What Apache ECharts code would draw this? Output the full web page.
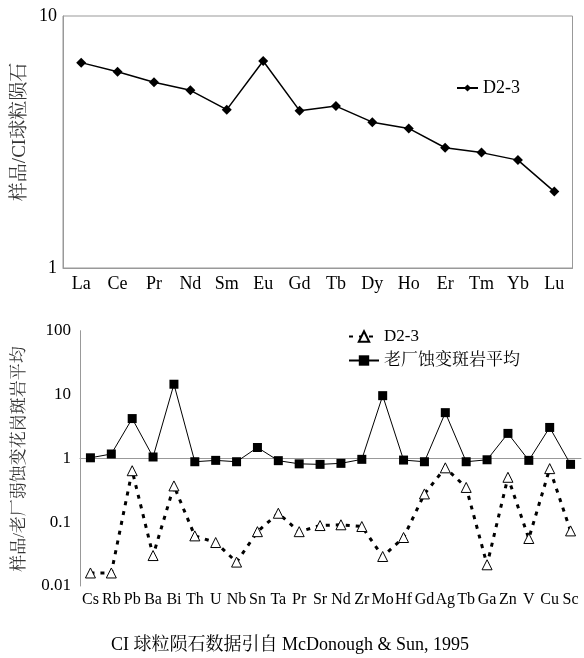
<!DOCTYPE html>
<html><head><meta charset="utf-8">
<script src="https://cdn.jsdelivr.net/npm/echarts@6/dist/echarts.min.js"></script>
<style>html,body{margin:0;padding:0;background:#fff}#c{width:584px;height:658px}</style>
</head><body><div id="c"></div>
<script>
var reeCats = ['La','Ce','Pr','Nd','Sm','Eu','Gd','Tb','Dy','Ho','Er','Tm','Yb','Lu'];
var reeD23 = [6.53,6.01,5.46,5.07,4.25,6.63,4.21,4.39,3.79,3.58,3.00,2.87,2.68,2.01];
var traceCats = ['Cs','Rb','Pb','Ba','Bi','Th','U','Nb','Sn','Ta','Pr','Sr','Nd','Zr','Mo','Hf','Gd','Ag','Tb','Ga','Zn','V','Cu','Sc'];
var traceD23 = [0.016,0.016,0.64,0.030,0.37,0.061,0.048,0.0237,0.071,0.138,0.071,0.0885,0.091,0.0855,0.029,0.0575,0.277,0.71,0.35,0.0215,0.505,0.0555,0.69,0.073];
var traceLC = [1.02,1.17,4.2,1.05,14.5,0.885,0.93,0.885,1.48,0.92,0.82,0.805,0.835,0.965,9.6,0.94,0.885,5.2,0.885,0.95,2.46,0.93,3.05,0.805];
var topTicks = [1,10];
var botTicks = [0.01,0.1,1,10,100];

var SERIF = '"Liberation Serif","Times New Roman",serif';
var CJK = '"Liberation Serif","Noto Serif CJK SC","Noto Sans CJK SC",serif';
var axisGrey = '#999';
var chart = echarts.init(document.getElementById('c'));
chart.setOption({
  animation:false,
  backgroundColor:'#fff',
  grid:[
    {left:63, top:16, width:509.5, height:252, show:true, borderColor:axisGrey, borderWidth:1, backgroundColor:'transparent'},
    {left:80, top:330.7, right:3, height:255.3}
  ],
  xAxis:[
    {gridIndex:0, type:'category', data:reeCats, boundaryGap:true,
     axisLine:{lineStyle:{color:axisGrey}}, axisTick:{inside:true, length:4, lineStyle:{color:axisGrey}},
     axisLabel:{interval:0, color:'#000', fontFamily:SERIF, fontSize:18, margin:7}},
    {gridIndex:1, type:'category', data:traceCats, boundaryGap:true, position:'bottom',
     axisLine:{show:false}, axisTick:{show:false},
     axisLabel:{interval:0, color:'#000', fontFamily:SERIF, fontSize:16, margin:6}},
    {gridIndex:1, type:'category', data:traceCats, boundaryGap:true, position:'bottom', offset:-127.7,
     axisLine:{lineStyle:{color:axisGrey}}, axisTick:{inside:true, length:4, lineStyle:{color:axisGrey}},
     axisLabel:{show:false}}
  ],
  yAxis:[
    {gridIndex:0, type:'log', logBase:10, min:topTicks[0], max:topTicks[1],
     axisLine:{show:true, lineStyle:{color:axisGrey}}, axisTick:{show:false}, splitLine:{show:false},
     axisLabel:{color:'#000', fontFamily:SERIF, fontSize:18, margin:6}},
    {gridIndex:1, type:'log', logBase:10, min:botTicks[0], max:botTicks[4],
     axisLine:{show:true, lineStyle:{color:axisGrey}}, axisTick:{inside:true, length:3, lineStyle:{color:axisGrey}}, splitLine:{show:false},
     axisLabel:{color:'#000', fontFamily:SERIF, fontSize:17, margin:9,
       formatter:function(v){ var m={0.01:'0.01',0.1:'0.1',1:'1',10:'10',100:'100'}; return m[v]!==undefined?m[v]:String(v);} }}
  ],
  legend:[
    {left:451, top:74, itemWidth:21, itemHeight:9, data:['D2-3 REE'],
     formatter:function(){return 'D2-3';},
     textStyle:{color:'#000', fontFamily:SERIF, fontSize:18}},
    {left:343, top:323, orient:'vertical', itemWidth:30, itemHeight:13, itemGap:7,
     data:['D2-3','老厂蚀变斑岩平均'],
     textStyle:{color:'#000', fontFamily:CJK, fontSize:17}}
  ],
  series:[
    {name:'D2-3 REE', type:'line', xAxisIndex:0, yAxisIndex:0, data:reeD23,
     symbol:'diamond', symbolSize:10, lineStyle:{color:'#000', width:1.5},
     itemStyle:{color:'#000'}},
    {name:'老厂蚀变斑岩平均', type:'line', xAxisIndex:2, yAxisIndex:1, data:traceLC,
     symbol:'rect', symbolSize:9, lineStyle:{color:'#000', width:1},
     itemStyle:{color:'#000'}},
    {name:'D2-3', type:'line', xAxisIndex:2, yAxisIndex:1, data:traceD23,
     symbol:'triangle', symbolSize:10, lineStyle:{color:'#000', width:3, type:[4,6]},
     itemStyle:{color:'#fff', borderColor:'#000', borderWidth:1}}
  ],
  graphic:[
    {type:'text', x:20, y:132, rotation:Math.PI/2,
     style:{text:'样品/CI球粒陨石', fill:'#333', font:'19px '+CJK, align:'center', verticalAlign:'middle'}},
    {type:'text', x:20, y:459, rotation:Math.PI/2,
     style:{text:'样品/老厂弱蚀变花岗斑岩平均', fill:'#333', font:'17px '+CJK, align:'center', verticalAlign:'middle'}},
    {type:'text', x:290, y:645,
     style:{text:'CI 球粒陨石数据引自 McDonough & Sun, 1995', fill:'#000', font:'18px '+CJK, align:'center', verticalAlign:'middle'}}
  ]
});
</script></body></html>
